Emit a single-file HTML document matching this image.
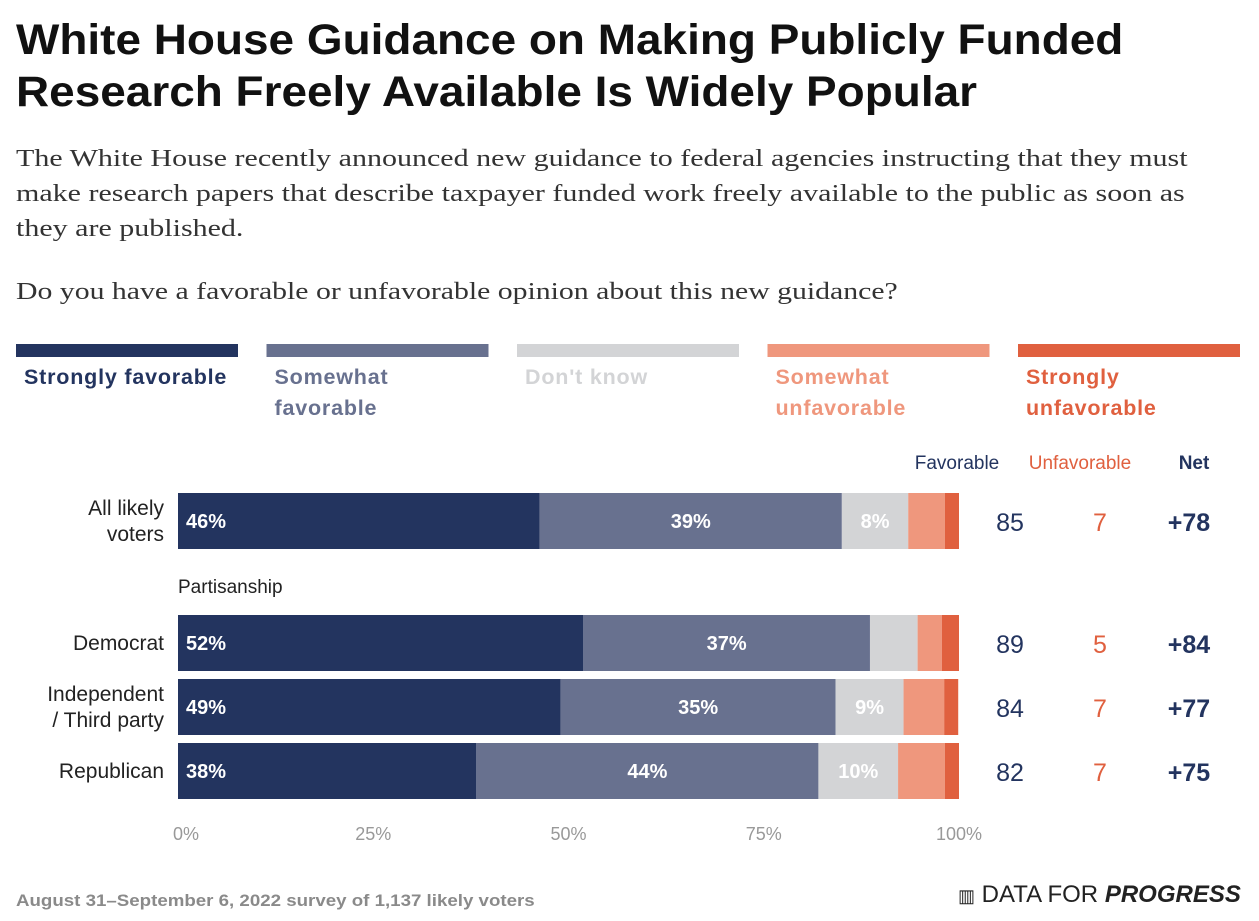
<!DOCTYPE html>
<html><head><meta charset="utf-8"><style>
body{margin:0;width:1259px;height:921px;background:#fff;font-family:"Liberation Sans",sans-serif;overflow:hidden;position:relative}
.t{position:absolute;white-space:nowrap;transform-origin:0 0}
</style></head><body>
<div class="t" style="left:16px;top:14px;font-size:43px;font-weight:bold;line-height:52px;color:#111;transform:scaleX(1.068)">White House Guidance on Making Publicly Funded<br>Research Freely Available Is Widely Popular</div>
<div class="t" style="left:16px;top:142px;font-family:'Liberation Serif',serif;font-size:24px;line-height:35px;color:#333;transform:scaleX(1.25)">The White House recently announced new guidance to federal agencies instructing that they must<br>make research papers that describe taxpayer funded work freely available to the public as soon as<br>they are published.</div>
<div class="t" style="left:16px;top:279px;font-family:'Liberation Serif',serif;font-size:24px;color:#333;transform:scaleX(1.24)">Do you have a favorable or unfavorable opinion about this new guidance?</div>
<svg id="chart" width="1259" height="921" style="position:absolute;left:0;top:0" font-family="Liberation Sans, sans-serif"></svg>
<div class="t" style="left:16px;top:891px;font-size:17px;font-weight:bold;color:#8a8a8a;transform:scaleX(1.1)">August 31–September 6, 2022 survey of 1,137 likely voters</div>
<div class="t" style="left:958px;top:881px;font-size:24px;color:#222"><span style="font-size:18px">▥</span> DATA FOR <b><i>PROGRESS</i></b></div>
<script>
const categories=["All likely voters","Democrat","Independent / Third party","Republican"];
const strongFav=[46.3,51.9,49,38.2];
const someFav=[38.7,36.7,35.2,43.8];
const dontKnow=[8.5,6.1,8.7,10.2];
const someUnfav=[4.7,3.1,5.2,6];
const strongUnfav=[1.8,2.2,1.8,1.8];
const labelsFav=["46%","52%","49%","38%"];
const labelsSome=["39%","37%","35%","44%"];
const labelsDk=["8%","","9%","10%"];
const favTotals=[85,89,84,82];
const unfavTotals=[7,5,7,7];
const netLabels=["+78","+84","+77","+75"];
const ticks=[0,25,50,75,100];
const seriesNames=["Strongly favorable","Somewhat favorable","Don't know","Somewhat unfavorable","Strongly unfavorable"];
const colors=["#23345f","#68718f","#d3d4d6","#ef977d","#e0603f"];
const NS="http://www.w3.org/2000/svg";
const svg=document.getElementById('chart');
const x=v=>178+v*7.81;
const rowY=[493,615,679,743], bh=56;
function el(tag,a,txt){const e=document.createElementNS(NS,tag);for(const k in a)e.setAttribute(k,a[k]);if(txt!==undefined)e.textContent=txt;svg.appendChild(e);return e;}
const legText=[["Strongly favorable"],["Somewhat","favorable"],["Don't know"],["Somewhat","unfavorable"],["Strongly","unfavorable"]];
const legTc=["#23345f","#68718f","#d3d4d6","#ef977d","#e0603f"];
for(let i=0;i<5;i++){
 const lx=16+i*250.5;
 const r=el('rect',{x:lx,y:344,width:222,height:13,fill:colors[i]});
 
 
 legText[i].forEach((s,j)=>{const t=el('text',{x:lx+8,y:384+j*31,'font-size':21.5,'font-weight':'bold',fill:legTc[i],'letter-spacing':'0.8'},s);
 
 });
}
[["Favorable",957,"#23345f"],["Unfavorable",1080,"#e0603f"],["Net",1194,"#23345f"]].forEach(h=>{const t=el('text',{x:h[1],y:469,'font-size':19,'text-anchor':'middle',fill:h[2],'font-weight':h[0]=="Net"?'bold':'normal'},h[0]);
 
 });
const pl=el('text',{x:178,y:593,'font-size':19,fill:'#222'},'Partisanship');


const series=[strongFav,someFav,dontKnow,someUnfav,strongUnfav];
const segLabels=[labelsFav,labelsSome,labelsDk];
categories.forEach((c,i)=>{
 const y=rowY[i];let cum=0;
 series.forEach((s,k)=>{
  const r=el('rect',{x:x(cum),y:y,width:x(cum+s[i])-x(cum),height:bh,fill:colors[k]});
  
  
  if(k<3&&segLabels[k][i]){
   const tx=k==0?x(cum)+8:(x(cum)+x(cum+s[i]))/2;
   const t=el('text',{x:tx,y:y+35,'font-size':20,'font-weight':'bold',fill:'#fff','text-anchor':k==0?'start':'middle'},segLabels[k][i]);
   
   
  }
  cum+=s[i];
 });
 const parts=c=="All likely voters"?["All likely","voters"]:c=="Independent / Third party"?["Independent","/ Third party"]:[c];
 parts.forEach((p,j)=>{const t=el('text',{x:164,y:y+35+(parts.length==2?(j*26-13):0),'font-size':21,fill:'#222','text-anchor':'end'},p);
 
 });
 const f=el('text',{x:1010,y:y+38,'font-size':25,fill:'#23345f','text-anchor':'middle'},favTotals[i]);
 
 
 const u=el('text',{x:1100,y:y+38,'font-size':25,fill:'#e0603f','text-anchor':'middle'},unfavTotals[i]);
 
 
 const n=el('text',{x:1189,y:y+38,'font-size':25,'font-weight':'bold',fill:'#23345f','text-anchor':'middle'},netLabels[i]);
 
 
});
ticks.forEach(v=>{const t=el('text',{x:x(v)+(v==0?8:0),y:840,'font-size':18,fill:'#999','text-anchor':'middle'},v+'%');
 
 });
</script>
</body></html>
